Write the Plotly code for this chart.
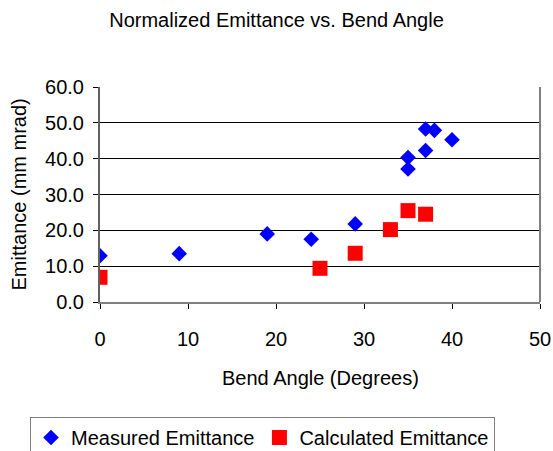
import plotly.graph_objects as go

meas_x = [0, 9, 19, 24, 29, 35, 35, 37, 38, 37, 40]
meas_y = [12.9, 13.5, 19.0, 17.5, 21.8, 40.3, 37.1, 48.3, 47.9, 42.3, 45.3]
calc_x = [0, 25, 29, 33, 35, 37]
calc_y = [6.9, 9.4, 13.6, 20.2, 25.5, 24.5]

W, H = 553, 451
PW, PH = 440, 215
font = "Liberation Sans, Arial, sans-serif"
fig = go.Figure()
fig.add_trace(go.Scatter(x=meas_x, y=meas_y, mode="markers", name="Measured Emittance",
                         marker=dict(symbol="diamond", size=12, color="#0000FF")))
fig.add_trace(go.Scatter(x=calc_x, y=calc_y, mode="markers", name="Calculated Emittance",
                         marker=dict(symbol="square", size=15, color="#FF0000")))

fig.update_layout(
    width=W, height=H,
    margin=dict(l=100, r=13, t=87, b=149, autoexpand=False),
    paper_bgcolor="white", plot_bgcolor="white",
    font=dict(family=font, size=20, color="black"),
    title=dict(text="Normalized Emittance vs. Bend Angle", x=0.5, xanchor="center",
               y=1 - 20 / H, yanchor="middle", font=dict(size=20)),
    showlegend=True,
    legend=dict(orientation="h", xref="paper", yref="paper",
                x=(30 - 100) / PW, xanchor="left", y=-(417 - 302) / PH, yanchor="top",
                bordercolor="#808080", borderwidth=1, font=dict(size=20),
                itemwidth=30, traceorder="normal"),
    annotations=[
        dict(text="Bend Angle (Degrees)", xref="paper", yref="paper", x=0.5,
             y=-(378 - 302) / PH, xanchor="center", yanchor="middle", showarrow=False,
             font=dict(size=20)),
        dict(text="Emittance (mm mrad)", xref="paper", yref="paper", x=-(100 - 18) / PW,
             y=0.5, xanchor="center", yanchor="middle", textangle=-90, showarrow=False,
             font=dict(size=20)),
    ],
    yaxis2=dict(overlaying="y", side="left", anchor="x", range=[0, 60], dtick=10,
                ticks="inside", ticklen=5, tickcolor="black", tickwidth=1,
                showticklabels=False, showgrid=False, zeroline=False, showline=False,
                automargin=False),
)
fig.update_xaxes(range=[0, 50], dtick=10, tick0=0, showgrid=False, zeroline=False,
                 showline=True, linecolor="#808080", linewidth=2, automargin=False,
                 ticks="outside", ticklen=5, tickcolor="black", tickwidth=1,
                 ticklabelstandoff=13, tickfont=dict(size=20))
fig.update_yaxes(selector=dict(overlaying=None), range=[0, 60], dtick=10, tickformat=".1f",
                 showgrid=True, gridcolor="black",
                 gridwidth=1, zeroline=False, showline=True, linecolor="#606060", linewidth=2,
                 automargin=False, ticks="outside", ticklen=5, tickcolor="black", tickwidth=1,
                 ticklabelstandoff=5, tickfont=dict(size=20))
# right border
fig.add_shape(type="line", xref="paper", yref="paper", x0=1, x1=1, y0=0, y1=1,
              line=dict(color="#808080", width=2))
fig.write_html("out.html")
